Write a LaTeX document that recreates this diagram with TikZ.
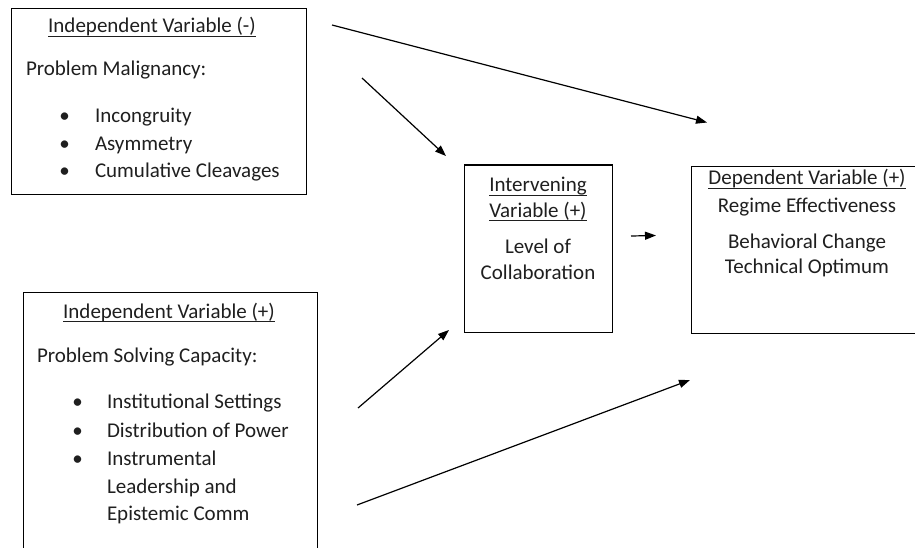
\documentclass[tikz,border=0pt]{standalone}
\usepackage{fontspec}
\setmainfont{Carlito}
\usetikzlibrary{arrows.meta}
\tikzset{
  box/.style={draw=black, line width=1.3pt, inner sep=0pt, anchor=north west},
  txt/.style={inner sep=0pt, outer sep=0pt, font=\fontsize{21pt}{26pt}\selectfont, text=black!88},
  bul/.style={txt, anchor=base},
  conn/.style={line width=1.2pt, -{Triangle[length=11pt,width=8pt]}},
  uline/.style={line width=0.9pt, black!88}
}
\begin{document}
\begin{tikzpicture}[x=1pt,y=-1pt]
\clip (0,0) rectangle (915,548);
\fill[white] (0,0) rectangle (915,548);
% boxes
\node[box, minimum width=294.5pt, minimum height=186pt] (b1) at (11,8) {};
\node[box, minimum width=294pt, minimum height=280pt] (b2) at (22.7,292) {};
\node[box, minimum width=147.7pt, minimum height=167.4pt] (b3) at (464,164.3) {};
\node[box, minimum width=240pt, minimum height=166.7pt] (b4) at (690.7,166) {};
% box 1 texts
\node[txt, anchor=base] (t1) at (152,33) {Independent Variable (-)};
\draw[uline] ([yshift=-3pt]t1.base west) -- ([yshift=-3pt]t1.base east);
\node[txt, anchor=base west] (p1) at (26,76) {Problem Malignancy:};
\node[bul] (d11) at (64.5,123) {•};
\node[bul] (d12) at (64.5,151) {•};
\node[bul] (d13) at (64.5,178) {•};
\node[txt, anchor=base west] (i11) at (95,123) {Incongruity};
\node[txt, anchor=base west] (i12) at (95,151) {Asymmetry};
\node[txt, anchor=base west] (i13) at (95,178) {Cumulative Cleavages};
% box 2 texts
\node[txt, anchor=base] (t2) at (169,318) {Independent Variable (+)};
\draw[uline] ([yshift=-3pt]t2.base west) -- ([yshift=-3pt]t2.base east);
\node[txt, anchor=base west] (p2) at (37,362) {Problem Solving Capacity:};
\node[bul] (d21) at (77.5,408) {•};
\node[bul] (d22) at (77.5,437) {•};
\node[bul] (d23) at (77.5,465) {•};
\node[txt, anchor=base west] (i21) at (107,408) {Institutional Settings};
\node[txt, anchor=base west] (i22) at (107,437) {Distribution of Power};
\node[txt, anchor=base west] (i23) at (107,465) {Instrumental};
\node[txt, anchor=base west] (i24) at (107,493) {Leadership and};
\node[txt, anchor=base west] (i25) at (107,520) {Epistemic Comm};
% box 3 texts
\node[txt, anchor=base] (t3a) at (538,192) {Intervening};
\draw[uline] ([yshift=-3pt]t3a.base west) -- ([yshift=-3pt]t3a.base east);
\node[txt, anchor=base] (t3b) at (538,217) {Variable (+)};
\draw[uline] ([yshift=-3pt]t3b.base west) -- ([yshift=-3pt]t3b.base east);
\node[txt, anchor=base] (l3a) at (538,253) {Level of};
\node[txt, anchor=base] (l3b) at (538,279) {Collaboration};
% box 4 texts
\node[txt, anchor=base] (t4) at (807,185) {Dependent Variable (+)};
\draw[uline] ([yshift=-3pt]t4.base west) -- ([yshift=-3pt]t4.base east);
\node[txt, anchor=base] (r4) at (807,212) {Regime Effectiveness};
\node[txt, anchor=base] (r4b) at (807,248) {Behavioral Change};
\node[txt, anchor=base] (r4c) at (807,273) {Technical Optimum};
% connector end points
\coordinate (a1s) at (332,25);  \coordinate (a1e) at (707,122.5);
\coordinate (a2s) at (362,78);  \coordinate (a2e) at (446,156);
\coordinate (a3s) at (358,408); \coordinate (a3e) at (449,330);
\coordinate (a4s) at (357,505); \coordinate (a4e) at (690,380);
\coordinate (a5s) at (631,236); \coordinate (a5e) at (656,235.5);
\draw[conn] (a1s) -- (a1e);
\draw[conn] (a2s) -- (a2e);
\draw[conn] (a3s) -- (a3e);
\draw[conn] (a4s) -- (a4e);
\draw[conn] (a5s) -- (a5e);
\end{tikzpicture}
\end{document}
